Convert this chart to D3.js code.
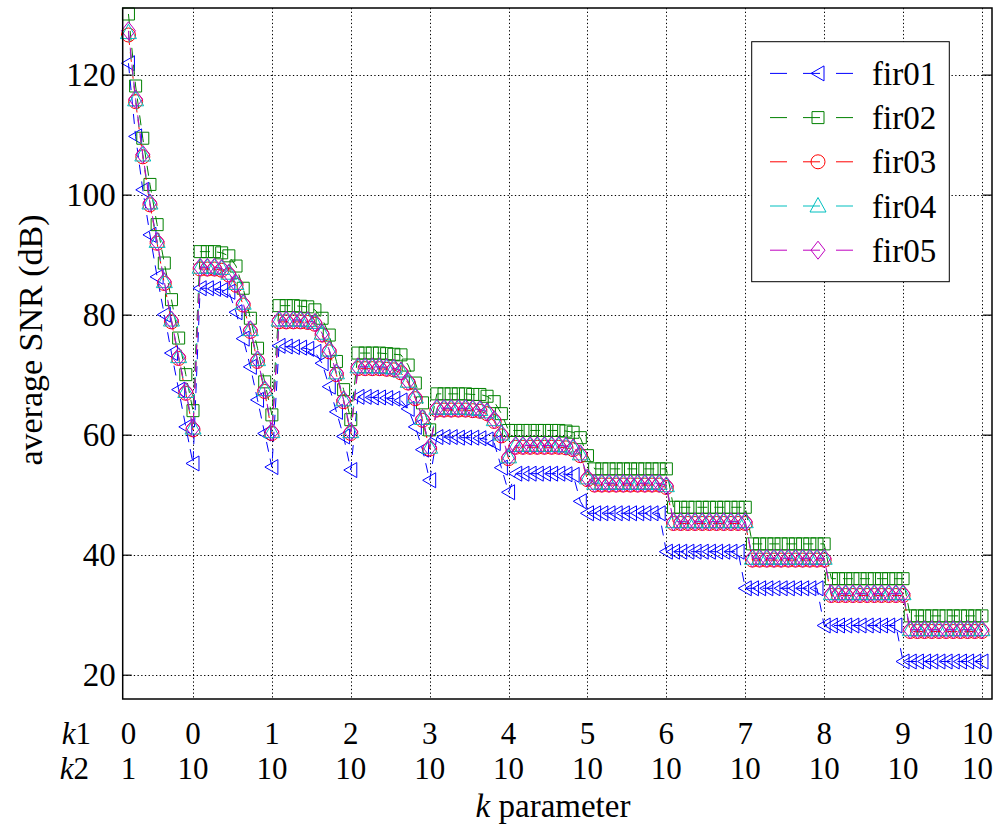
<!DOCTYPE html>
<html><head><meta charset="utf-8">
<script src="https://cdn.jsdelivr.net/npm/d3@7"></script>
<style>
body{margin:0;background:#fff}
svg{display:block}
</style>
</head><body>
<svg id="chart" width="996" height="828"></svg>
<script>
// ---- data (index 0..119: k1=0,k2=1..10 then k1=1..10, k2=0..10) ----
const seriesNames = ["fir01","fir02","fir03","fir04","fir05"];
const seriesColors = ["#0000ff","#008000","#ff0000","#00bfbf","#bf00bf"];
const seriesMarkers = ["tri-left","square","circle","tri-up","diamond"];

const fir01 = [
 121.9,109.7,100.8,93.3,86.3,80.0,73.6,67.5,61.3,55.2,
 84.4,84.4,84.3,84.1,83.8,80.4,76.0,71.3,65.8,60.2,54.6,
 74.8,74.7,74.6,74.5,74.3,73.8,71.9,68.0,63.8,59.7,54.1,
 66.3,66.3,66.2,66.2,66.1,66.0,65.7,64.3,61.3,57.5,52.4,
 59.6,59.6,59.6,59.5,59.5,59.5,59.4,59.2,58.6,54.5,50.4,
 53.5,53.5,53.5,53.5,53.5,53.5,53.5,53.4,53.3,48.9,46.9,
 46.9,46.9,46.9,46.9,46.9,46.9,46.9,46.9,46.9,46.9,40.5,
 40.5,40.5,40.5,40.5,40.5,40.5,40.5,40.5,40.5,40.5,34.4,
 34.4,34.4,34.4,34.4,34.4,34.4,34.4,34.4,34.4,34.4,28.2,
 28.2,28.2,28.2,28.2,28.2,28.2,28.2,28.2,28.2,28.2,22.2,
 22.2,22.2,22.2,22.2,22.2,22.2,22.2,22.2,22.2,22.2,22.2];
const fir02 = [
 130.1,118.1,109.4,101.7,95.0,88.6,82.5,76.1,70.0,64.0,
 90.5,90.5,90.5,90.3,89.8,88.1,84.4,79.4,74.4,68.8,63.3,
 81.5,81.5,81.5,81.4,81.3,80.8,79.4,76.6,72.2,67.5,62.5,
 73.6,73.6,73.6,73.6,73.5,73.4,73.3,71.6,68.6,65.3,60.8,
 66.8,66.8,66.8,66.8,66.8,66.7,66.7,66.4,65.5,63.5,60.7,
 60.7,60.7,60.7,60.7,60.7,60.7,60.7,60.6,60.4,59.5,56.5,
 54.3,54.3,54.3,54.3,54.3,54.3,54.3,54.3,54.3,54.3,54.3,
 47.9,47.9,47.9,47.9,47.9,47.9,47.9,47.9,47.9,47.9,47.9,
 41.8,41.8,41.8,41.8,41.8,41.8,41.8,41.8,41.8,41.8,41.8,
 36.0,36.0,36.0,36.0,36.0,36.0,36.0,36.0,36.0,36.0,36.0,
 29.8,29.8,29.8,29.8,29.8,29.8,29.8,29.8,29.8,29.8,29.8];
const fir03 = [
 126.6,115.5,106.3,98.3,91.9,85.2,78.8,72.7,66.9,60.8,
 87.6,87.6,87.6,87.4,86.6,84.9,81.6,77.2,72.2,67.2,60.2,
 78.8,78.8,78.8,78.8,78.7,78.4,76.6,73.8,70.0,65.5,60.2,
 71.0,71.0,71.0,71.0,70.9,70.8,70.3,68.6,66.0,62.4,57.6,
 64.1,64.1,64.1,64.1,64.1,64.0,63.9,63.5,62.2,59.8,56.0,
 57.9,57.9,57.9,57.9,57.9,57.9,57.9,57.8,57.5,56.5,52.5,
 51.6,51.6,51.6,51.6,51.6,51.6,51.6,51.6,51.6,51.6,51.2,
 45.2,45.2,45.2,45.2,45.2,45.2,45.2,45.2,45.2,45.2,45.2,
 39.1,39.1,39.1,39.1,39.1,39.1,39.1,39.1,39.1,39.1,39.1,
 33.2,33.2,33.2,33.2,33.2,33.2,33.2,33.2,33.2,33.2,33.2,
 27.2,27.2,27.2,27.2,27.2,27.2,27.2,27.2,27.2,27.2,27.2];
const fir04 = [
 127.0,115.8,106.6,98.6,92.2,85.5,79.1,73.0,67.2,61.1,
 87.9,87.9,87.9,87.7,86.9,85.2,81.9,77.5,72.5,67.5,60.5,
 79.1,79.1,79.1,79.1,79.0,78.7,76.9,74.1,70.3,65.8,60.5,
 71.3,71.3,71.3,71.3,71.2,71.1,70.6,68.9,66.3,62.7,57.9,
 64.4,64.4,64.4,64.4,64.4,64.3,64.2,63.8,62.5,60.1,56.3,
 58.2,58.2,58.2,58.2,58.2,58.2,58.2,58.1,57.8,56.8,52.8,
 51.9,51.9,51.9,51.9,51.9,51.9,51.9,51.9,51.9,51.9,51.5,
 45.5,45.5,45.5,45.5,45.5,45.5,45.5,45.5,45.5,45.5,45.5,
 39.4,39.4,39.4,39.4,39.4,39.4,39.4,39.4,39.4,39.4,39.4,
 33.5,33.5,33.5,33.5,33.5,33.5,33.5,33.5,33.5,33.5,33.5,
 27.5,27.5,27.5,27.5,27.5,27.5,27.5,27.5,27.5,27.5,27.5];
const fir05 = [
 127.3,115.9,106.7,98.6,92.2,85.5,79.1,73.0,67.2,61.1,
 87.9,87.9,87.9,87.7,86.9,85.2,81.9,77.5,72.5,67.5,60.5,
 79.1,79.1,79.1,79.1,79.0,78.7,76.9,74.1,70.3,65.8,60.5,
 71.3,71.3,71.3,71.3,71.2,71.1,70.6,68.9,66.3,62.7,57.9,
 64.4,64.4,64.4,64.4,64.4,64.3,64.2,63.8,62.5,60.1,56.3,
 58.2,58.2,58.2,58.2,58.2,58.2,58.2,58.1,57.8,56.8,52.8,
 51.9,51.9,51.9,51.9,51.9,51.9,51.9,51.9,51.9,51.9,51.5,
 45.5,45.5,45.5,45.5,45.5,45.5,45.5,45.5,45.5,45.5,45.5,
 39.4,39.4,39.4,39.4,39.4,39.4,39.4,39.4,39.4,39.4,39.4,
 33.5,33.5,33.5,33.5,33.5,33.5,33.5,33.5,33.5,33.5,33.5,
 27.5,27.5,27.5,27.5,27.5,27.5,27.5,27.5,27.5,27.5,27.5];
const seriesValues = [fir01, fir02, fir03, fir04, fir05];

const xTickIndex = [0,9,20,31,42,53,64,75,86,97,108,119];
const k1Labels = ["0","0","1","2","3","4","5","6","7","8","9","10"];
const k2Labels = ["1","10","10","10","10","10","10","10","10","10","10","10"];
const gridIndex = [9,20,31,42,53,64,75,86,97,108,119];
const yTicks = [20,40,60,80,100,120];

// ---- layout ----
const FONT = '"Liberation Serif", "Times New Roman", Times, serif';
const svg = d3.select("#chart");
const L = 122.7, R = 992, T = 8, B = 699;
const x = d3.scaleLinear().domain([-0.8, 120.4]).range([L, R]);
const y = d3.scaleLinear().domain([15.95, 131.1]).range([B, T]);
const FS = 33, FSX = 31;
const ROW1 = 744, ROW2 = 779;
function txt(sel){ return sel.style("font-family", FONT).style("fill","#000"); }

// grid
const grid = svg.append("g").attr("stroke","#000").attr("stroke-width",1).attr("stroke-dasharray","1.3,2.4");
grid.selectAll("line.v").data(gridIndex).join("line").attr("class","v")
  .attr("x1",d=>Math.round(x(d))+0.5).attr("x2",d=>Math.round(x(d))+0.5).attr("y1",T).attr("y2",B);
grid.selectAll("line.h").data(yTicks).join("line").attr("class","h")
  .attr("x1",L).attr("x2",R).attr("y1",d=>Math.round(y(d))+0.5).attr("y2",d=>Math.round(y(d))+0.5);

// markers
function markerPath(type){
  switch(type){
    case "tri-left": return "M-7,0L6,-7.5L6,7.5Z";
    case "square": return "M-6,-6H6V6H-6Z";
    case "circle": return "M7,0A7,7 0 1,1 -7,0A7,7 0 1,1 7,0Z";
    case "tri-up": return "M0,-8.5L8,6L-8,6Z";
    case "diamond": return "M0,-9L7,0L0,9L-7,0Z";
  }
}

const plot = svg.append("g");
const line = d3.line().x((d,i)=>x(i)).y(d=>y(d));
seriesValues.forEach((vals,s)=>{
  const g = plot.append("g");
  g.append("path").datum(vals).attr("d",line).attr("fill","none")
    .attr("stroke",seriesColors[s]).attr("stroke-width",1).attr("stroke-dasharray","10,7");
  g.selectAll("path.m").data(vals).join("path").attr("class","m")
    .attr("transform",(d,i)=>`translate(${x(i)},${y(d)})`)
    .attr("d",markerPath(seriesMarkers[s])).attr("fill","none")
    .attr("stroke",seriesColors[s]).attr("stroke-width",1);
});

// frame
svg.append("rect").attr("x",L).attr("y",T).attr("width",R-L).attr("height",B-T)
  .attr("fill","none").attr("stroke","#000").attr("stroke-width",1.5);

// y axis ticks (left & right, inward)
const yAxisL = d3.axisLeft(y).tickValues(yTicks).tickSizeInner(-9).tickSizeOuter(0).tickPadding(7);
const gL = svg.append("g").attr("transform",`translate(${L},0)`).call(yAxisL);
gL.select(".domain").remove();
gL.selectAll("line").attr("stroke","#000").attr("stroke-width",1.2);
txt(gL.selectAll("text")).attr("font-size",FS).attr("dy","0.34em");
const yAxisR = d3.axisRight(y).tickValues(yTicks).tickSizeInner(-9).tickSizeOuter(0).tickFormat("");
const gR = svg.append("g").attr("transform",`translate(${R},0)`).call(yAxisR);
gR.select(".domain").remove();
gR.selectAll("line").attr("stroke","#000").attr("stroke-width",1.2);

// x tick labels: one text per tick with k1 and k2 rows, kept inside the canvas
const xl = svg.append("g").attr("font-size",FSX).attr("text-anchor","middle");
const tk = txt(xl.selectAll("text").data(xTickIndex).join("text"));
tk.each(function(d,i){
  const t = d3.select(this);
  const a = t.append("tspan").attr("y",ROW1).text(k1Labels[i]);
  const b = t.append("tspan").attr("y",ROW2).text(k2Labels[i]);
  [a,b].forEach(sp=>{
    const w = sp.node().getComputedTextLength();
    sp.attr("x", Math.min(x(d), 993 - w/2));
  });
});
const rowLab = txt(svg.append("text")).attr("font-size",FSX).attr("text-anchor","end");
rowLab.append("tspan").attr("x",91).attr("y",ROW1).attr("font-style","italic").text("k");
rowLab.append("tspan").text("1");
rowLab.append("tspan").attr("x",89).attr("y",ROW2).attr("font-style","italic").text("k");
rowLab.append("tspan").text("2");

// axis titles
const xt = txt(svg.append("text")).attr("x",553).attr("y",817).attr("text-anchor","middle").attr("font-size",FS);
xt.append("tspan").attr("font-style","italic").text("k");
xt.append("tspan").text(" parameter");
txt(svg.append("text")).attr("transform","translate(42,340) rotate(-90)").attr("text-anchor","middle")
  .attr("font-size",34).text("average SNR (dB)");

// legend
const lg = svg.append("g");
lg.append("rect").attr("x",751.7).attr("y",41.7).attr("width",197.6).attr("height",240)
  .attr("fill","#fff").attr("stroke","#000").attr("stroke-width",1);
const legY = d3.scaleBand().domain(seriesNames).range([51.3,272.3]);
seriesNames.forEach((n,s)=>{
  const cy = legY(n)+legY.bandwidth()/2;
  lg.append("line").attr("x1",770).attr("x2",853).attr("y1",cy).attr("y2",cy)
    .attr("stroke",seriesColors[s]).attr("stroke-width",1).attr("stroke-dasharray","17,16");
  lg.append("path").attr("transform",`translate(818,${cy})`).attr("d",markerPath(seriesMarkers[s]))
    .attr("fill","none").attr("stroke",seriesColors[s]).attr("stroke-width",1);
  txt(lg.append("text")).attr("x",872).attr("y",cy).attr("dy","0.35em").attr("font-size",FS).text(n);
});
</script>
</body></html>
